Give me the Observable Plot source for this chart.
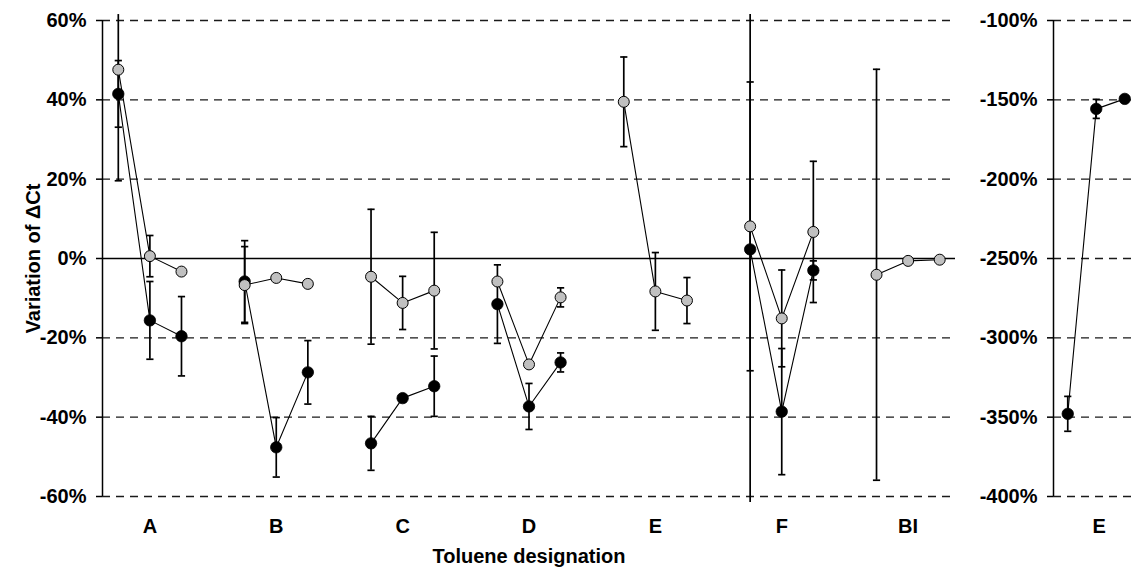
<!DOCTYPE html>
<html>
<head>
<meta charset="utf-8">
<script src="https://cdn.jsdelivr.net/npm/d3@7"></script>
<script src="https://cdn.jsdelivr.net/npm/@observablehq/plot@0.6"></script>
<style>
  html, body { margin: 0; padding: 0; background: white; overflow: hidden; }
  #wrap { position: relative; width: 1131px; height: 569px; overflow: hidden; background: white; }
  #main { position: absolute; left: 0; top: 0; }
  #inset { position: absolute; left: 975px; top: 0; }
</style>
</head>
<body>
<div id="wrap"><div id="main"></div><div id="inset"></div></div>
<script>
// ---- data (percent) ----
const categories = ["A", "B", "C", "D", "E", "F", "BI"];
const grayValues  = [47.6, 0.6, -3.3,  -6.7, -4.9, -6.4,  -4.6, -11.2, -8.1,  -5.8, -26.7, -9.8,  39.5, -8.3, -10.6,  8.1, -15.1, 6.7,  -4.1, -0.6, -0.3];
const grayErrors  = [28, 5.2, 0,  9.7, 0, 0,  17, 6.7, 14.7,  0, 0, 2.4,  11.3, 9.8, 5.8,  36.4, 12.2, 17.8,  51.8, 0, 0];
const blackValues = [41.5, -15.6, -19.6,  -5.8, -47.6, -28.7,  -46.6, -35.2, -32.2,  -11.5, -37.3, -26.2,  null, null, null,  2.3, -38.6, -3.0,  null, null, null];
const blackErrors = [8.4, 9.8, 10,  10.3, 7.5, 8,  6.8, 0, 7.6,  9.9, 5.8, 2.4,  null, null, null,  70, 15.9, 2.4,  null, null, null];
const mainTicks = [-60, -40, -20, 0, 20, 40, 60];

const insetCategory = "E";
const insetBlackValues = [-347.9, -155.7, -149.4];
const insetBlackErrors = [11, 6, 0];
const insetTicks = [-400, -350, -300, -250, -200, -150, -100];

const xTitle = "Toluene designation";
const yTitle = "Variation of \u0394Ct";

// ---- helpers ----
const FONT = "'Liberation Sans', Arial, Helvetica, sans-serif";
const svgStyle = {fontFamily: FONT, fontSize: "20px", fontWeight: "bold", background: "white", overflow: "visible", maxWidth: "none"};
const LIM = 61.5; // visible clipping of error bars beyond plot area

function buildRows(values, errors, series, perCat) {
  const rows = [];
  values.forEach((v, k) => {
    if (v == null) return;
    const i = Math.floor(k / perCat), j = k % perCat;
    rows.push({series, cat: i, x: (perCat + 1) * i + j + 1, v, e: errors[k] || 0});
  });
  return rows;
}
const capSymbol = {draw(ctx) { ctx.moveTo(-3.6, 0); ctx.lineTo(3.6, 0); }};
function capsOf(rows, lim) {
  const out = [];
  rows.filter(d => d.e > 0).forEach(d => {
    [d.v + d.e, d.v - d.e].forEach(y => { if (Math.abs(y) <= lim) out.push({x: d.x, y}); });
  });
  return out;
}

const grayRows = buildRows(grayValues, grayErrors, "gray", 3);
const blackRows = buildRows(blackValues, blackErrors, "black", 3);
const allRows = blackRows.concat(grayRows);

const main = Plot.plot({
  width: 975, height: 569,
  marginLeft: 102, marginRight: 20, marginTop: 20, marginBottom: 73,
  style: svgStyle,
  x: {domain: [0.5, 4 * categories.length - 0.5], label: null},
  y: {domain: [-60, 60], label: null},
  marks: [
    Plot.ruleY(mainTicks.filter(t => t !== 0), {stroke: "#1a1a1a", strokeWidth: 1.3, strokeDasharray: "8,6"}),
    Plot.ruleY([0], {stroke: "black", strokeWidth: 1.4}),
    Plot.ruleX([0.5], {stroke: "black", strokeWidth: 1.5}),
    Plot.axisY({ticks: mainTicks, tickFormat: d => `${d}%`, tickSize: 6, tickPadding: 10, stroke: "black", strokeWidth: 1.5, label: null}),
    Plot.axisX({ticks: categories.map((c, i) => 4 * i + 2), tickFormat: d => categories[(d - 2) / 4], tickSize: 0, tickPadding: 22, label: null}),
    Plot.line(allRows, {x: "x", y: "v", z: d => d.series + d.cat, stroke: "black", strokeWidth: 1.1}),
    Plot.ruleX(allRows.filter(d => d.e > 0), {x: "x", y1: d => Math.max(d.v - d.e, -LIM), y2: d => Math.min(d.v + d.e, LIM), stroke: "black", strokeWidth: 1.7}),
    Plot.dot(capsOf(allRows, LIM), {x: "x", y: "y", symbol: capSymbol, stroke: "black", strokeWidth: 1.7, fill: "none"}),
    Plot.dot(blackRows, {x: "x", y: "v", r: 5.7, fill: "black", stroke: "black", strokeWidth: 0.8}),
    Plot.dot(grayRows, {x: "x", y: "v", r: 5.5, fill: "#c0c0c0", stroke: "black", strokeWidth: 1}),
    Plot.text([yTitle], {text: d => d, frameAnchor: "left", textAnchor: "middle", lineAnchor: "middle", dx: -69, rotate: -90}),
    Plot.text([xTitle], {text: d => d, frameAnchor: "bottom", textAnchor: "middle", lineAnchor: "middle", dy: 60})
  ]
});
document.getElementById("main").appendChild(main);

const insetRows = buildRows(insetBlackValues, insetBlackErrors, "black", 3);
const inset = Plot.plot({
  width: 170, height: 569,
  marginLeft: 78, marginRight: 6.5, marginTop: 20, marginBottom: 73,
  style: svgStyle,
  x: {domain: [0.5, 3.5], label: null},
  y: {domain: [-400, -100], label: null},
  marks: [
    Plot.ruleY(insetTicks, {stroke: "#1a1a1a", strokeWidth: 1.3, strokeDasharray: "8,6"}),
    Plot.ruleX([0.5], {stroke: "black", strokeWidth: 1.5}),
    Plot.axisY({ticks: insetTicks, tickFormat: d => `${d}%`, tickSize: 6, tickPadding: 10, stroke: "black", strokeWidth: 1.5, label: null}),
    Plot.axisX({ticks: [2], tickFormat: () => insetCategory, tickSize: 0, tickPadding: 22, dx: 3, label: null}),
    Plot.line(insetRows, {x: "x", y: "v", stroke: "black", strokeWidth: 1.1}),
    Plot.ruleX(insetRows.filter(d => d.e > 0), {x: "x", y1: d => d.v - d.e, y2: d => d.v + d.e, stroke: "black", strokeWidth: 1.7}),
    Plot.dot(capsOf(insetRows, 1e9), {x: "x", y: "y", symbol: capSymbol, stroke: "black", strokeWidth: 1.7, fill: "none"}),
    Plot.dot(insetRows, {x: "x", y: "v", r: 5.7, fill: "black", stroke: "black", strokeWidth: 0.8})
  ]
});
document.getElementById("inset").appendChild(inset);
</script>
</body>
</html>
